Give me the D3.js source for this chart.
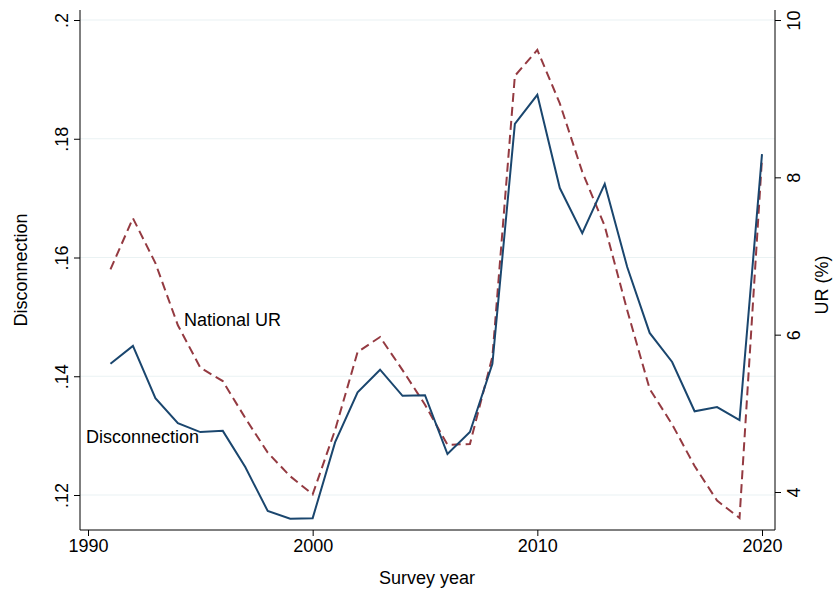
<!DOCTYPE html>
<html lang="en">
<head>
<meta charset="UTF-8">
<title>Disconnection and National UR</title>
<style>
  body { margin: 0; background: #fff; }
  text { font-family: "Liberation Sans", Arial, sans-serif; }
</style>
</head>
<body>
<svg width="834" height="597"></svg>
<script src="https://d3js.org/d3.v7.min.js"></script>
<script>
    // values
    let years = d3.range(1991, 2021);
    let disconnection = [.1421, .1451, .1363, .1321, .1306, .1308, .1247, .1173, .1160, .1161,
        .1289, .1373, .1411, .1367, .1368, .1269, .1306, .1421, .1825, .1874,
        .1717, .1641, .1724, .1584, .1473, .1424, .1341, .1348, .1326, .1774];
    let nationalUR = [6.83, 7.48, 6.91, 6.12, 5.58, 5.41, 4.94, 4.50, 4.20, 3.97,
        4.79, 5.78, 5.97, 5.55, 5.11, 4.60, 4.61, 5.72, 9.29, 9.62,
        8.94, 8.07, 7.38, 6.31, 5.31, 4.86, 4.33, 3.89, 3.67, 8.24];
    let xTicks = [1990, 2000, 2010, 2020];
    let leftTicks = [.12, .14, .16, .18, .2];
    let rightTicks = [4, 6, 8, 10];

    let svg = d3.select("svg");
    let pLeft = 80, pRight = 775, pTop = 10, pBottom = 530;

    let x = d3.scaleLinear().domain([1990, 2020]).range([88, 762]);
    let yL = d3.scaleLinear().domain([.12, .2]).range([495, 20]);
    let yR = d3.scaleLinear().domain([4, 10]).range([492, 20]);

    // gridlines
    svg.append("g").selectAll("line").data(leftTicks).join("line")
        .attr("x1", pLeft).attr("x2", pRight)
        .attr("y1", d => yL(d)).attr("y2", d => yL(d))
        .style("stroke", "#eaf2f3").style("stroke-width", 1.2);

    let fmtL = d => d3.format(".2f")(d).replace(/^0/, "").replace(/0$/, "");

    let axL = svg.append("g").attr("transform", "translate(" + pLeft + ",0)")
        .call(d3.axisLeft(yL).tickValues(leftTicks).tickFormat(fmtL).tickSize(6));
    axL.select(".domain").attr("d", "M0," + pTop + "V" + pBottom);
    axL.selectAll("text").attr("x", 0).attr("y", 0).attr("dy", "0")
        .attr("transform", "translate(-12,0) rotate(-90)")
        .style("text-anchor", "middle").style("font-size", "18px");

    let axR = svg.append("g").attr("transform", "translate(" + pRight + ",0)")
        .call(d3.axisRight(yR).tickValues(rightTicks).tickFormat(d3.format("d")).tickSize(6));
    axR.select(".domain").attr("d", "M0," + pTop + "V" + pBottom);
    axR.selectAll("text").attr("x", 0).attr("y", 0).attr("dy", "0")
        .attr("transform", "translate(25,0) rotate(-90)")
        .style("text-anchor", "middle").style("font-size", "18px");

    let axB = svg.append("g").attr("transform", "translate(0," + pBottom + ")")
        .call(d3.axisBottom(x).tickValues(xTicks).tickFormat(d3.format("d")).tickSize(6));
    axB.select(".domain").attr("d", "M" + pLeft + ",0H" + pRight);
    axB.selectAll("text").style("font-size", "18px").attr("y", 9);

    svg.selectAll(".domain, .tick line").style("stroke", "#000");

    let lineL = d3.line().x((d, i) => x(years[i])).y(d => yL(d));
    let lineR = d3.line().x((d, i) => x(years[i])).y(d => yR(d));

    svg.append("path").attr("d", lineR(nationalUR))
        .style("fill", "none").style("stroke", "#943a41").style("stroke-width", 2)
        .style("stroke-dasharray", "9,5");
    svg.append("path").attr("d", lineL(disconnection))
        .style("fill", "none").style("stroke", "#1a466e").style("stroke-width", 2);

    // labels
    svg.append("text").attr("x", 427).attr("y", 584).style("text-anchor", "middle")
        .style("font-size", "18px").text("Survey year");
    svg.append("text").attr("transform", "translate(27,270) rotate(-90)").style("text-anchor", "middle")
        .style("font-size", "18px").text("Disconnection");
    svg.append("text").attr("transform", "translate(828,285) rotate(-90)").style("text-anchor", "middle")
        .style("font-size", "18px").text("UR (%)");
    svg.append("text").attr("x", 184).attr("y", 326).style("font-size", "18px").text("National UR");
    svg.append("text").attr("x", 86).attr("y", 443).style("font-size", "18px").text("Disconnection");
</script>
</body>
</html>
